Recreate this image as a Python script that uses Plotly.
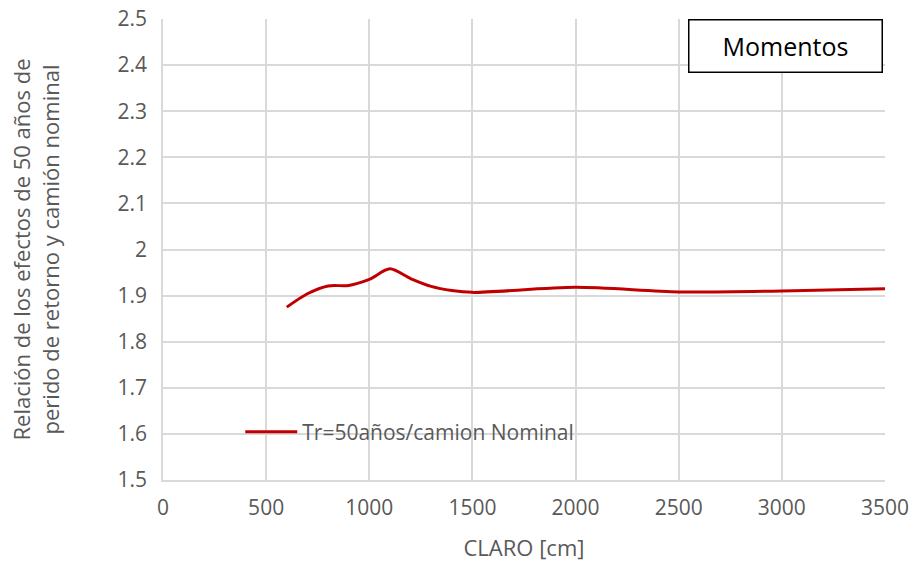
import plotly.graph_objects as go

claro = [600, 700, 800, 900, 1000, 1100, 1200, 1300, 1400, 1500, 2000, 2500, 3000, 3500]
relacion = [1.875, 1.904, 1.921, 1.922, 1.935, 1.958, 1.937, 1.920, 1.911, 1.907, 1.918, 1.908, 1.910, 1.915]

x_ticks = [0, 500, 1000, 1500, 2000, 2500, 3000, 3500]
y_ticks = [1.5, 1.6, 1.7, 1.8, 1.9, 2.0, 2.1, 2.2, 2.3, 2.4, 2.5]
y_labels = ["1.5", "1.6", "1.7", "1.8", "1.9", "2", "2.1", "2.2", "2.3", "2.4", "2.5"]

grey = "#595959"
grid = "#d9d9d9"

fig = go.Figure()
fig.add_trace(
    go.Scatter(
        x=claro,
        y=relacion,
        mode="lines",
        line=dict(color="#c00000", width=3, shape="spline", smoothing=0.8),
        name="Tr=50años/camion Nominal",
    )
)

fig.update_layout(
    width=914,
    height=562,
    margin=dict(l=163, r=29, t=19, b=82),
    plot_bgcolor="white",
    paper_bgcolor="white",
    font=dict(family="Open Sans", size=21, color=grey),
    showlegend=True,
    legend=dict(
        x=0.107,
        y=0.104,
        xanchor="left",
        yanchor="middle",
        bgcolor="rgba(0,0,0,0)",
        font=dict(size=21, color=grey),
        itemwidth=52,
    ),
    annotations=[
        dict(
            text="Momentos",
            xref="paper",
            yref="paper",
            x=0.997,
            y=1.0,
            xanchor="right",
            yanchor="top",
            showarrow=False,
            font=dict(size=25, color="black"),
            bordercolor="black",
            borderwidth=1.5,
            borderpad=9,
            width=174,
            height=33,
            bgcolor="white",
        )
    ],
)

fig.update_xaxes(
    range=[0, 3500],
    tickvals=x_ticks,
    showgrid=True,
    gridcolor=grid,
    gridwidth=1.5,
    zeroline=False,
    showline=True,
    linecolor=grid,
    linewidth=1.5,
    ticks="",
    ticklabelstandoff=8,
    ticklabeloverflow="allow",
    automargin=False,
    title=dict(text="CLARO [cm]", font=dict(size=22, color=grey), standoff=23),
)
fig.update_yaxes(
    range=[1.5, 2.5],
    tickvals=y_ticks,
    ticktext=y_labels,
    showgrid=True,
    gridcolor=grid,
    gridwidth=1.5,
    zeroline=False,
    showline=True,
    linecolor=grid,
    linewidth=1.5,
    ticks="",
    ticklabelstandoff=10,
    ticklabeloverflow="allow",
    automargin=False,
    title=dict(
        text="Relación de los efectos de 50 años de<br>perido de retorno y camión nominal",
        font=dict(size=22, color=grey),
        standoff=52,
    ),
)

# drop the default 8px body margin so the figure fills the window exactly
fig.write_html(
    "out.html",
    config={"displayModeBar": False},
    post_script="document.body.style.margin = '0px';",
)
